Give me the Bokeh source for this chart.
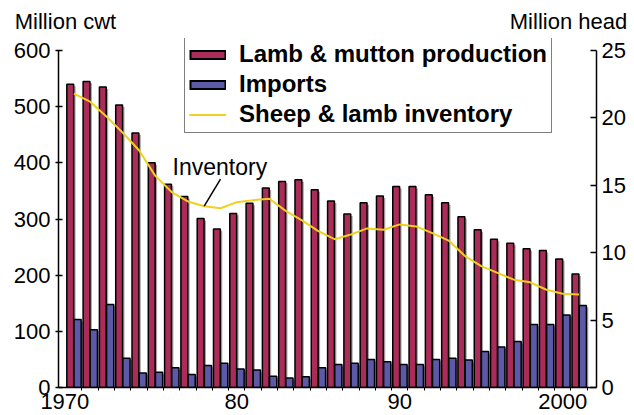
from bokeh.plotting import figure
from bokeh.models import (Range1d, LinearAxis, FixedTicker, Legend, LegendItem,
                          Label, ColumnDataSource)
from bokeh.transform import dodge
from bokeh.embed import file_html
from bokeh.resources import INLINE

# ---------------- data ----------------
years = list(range(1970, 2002))
production = [540, 545, 535, 503, 453, 400, 362, 340, 301, 282,
              310, 328, 355, 367, 370, 352, 332, 309, 329, 341,
              358, 358, 343, 329, 304, 281, 264, 257, 247, 244,
              229, 202]
imports = [121, 103, 148, 52, 26, 27, 35, 23, 39, 43,
           33, 31, 20, 17, 19, 35, 41, 43, 50, 46,
           41, 41, 50, 52, 49, 64, 72, 82, 112, 112,
           129, 146]
inventory = [21.8, 21.2, 20.1, 18.9, 17.6, 15.7, 14.5, 13.8, 13.45, 13.3,
             13.75, 13.9, 14.0, 13.1, 12.4, 11.6, 11.0, 11.35, 11.8, 11.7,
             12.1, 11.95, 11.45, 10.9, 9.75, 9.0, 8.5, 8.0, 7.8, 7.25,
             6.95, 6.9]
left_ticks = [0, 100, 200, 300, 400, 500, 600]
right_ticks = [0, 5, 10, 15, 20, 25]
x_tick_years = [1970, 1980, 1990, 2000]
x_tick_labels = ["1970", "80", "90", "2000"]
unit_titles = ["Million cwt", "Million head"]

# ---------------- style ----------------
RED = "#AA2C59"
BLUE = "#5B59A8"
YELLOW = "#F2D01E"
SHADOW = "#8f8f8f"
FONT = "Liberation Sans"
NAN = float("nan")

src = ColumnDataSource(dict(
    year=years,
    production=production,
    imports=imports,
    prod_shadow=[v - 3.5 for v in production],
    imp_shadow=[v - 3.5 for v in imports],
))

p = figure(width=634, height=415,
           x_range=Range1d(1969.06, 2002.07), y_range=Range1d(0, 621.4),
           output_backend="svg", toolbar_location=None,
           min_border_left=58, min_border_right=38,
           min_border_top=38, min_border_bottom=28)
p.extra_y_ranges = {"right": Range1d(0, 25.89)}
p.extra_x_ranges = {"px": Range1d(58, 596)}
p.outline_line_color = None
p.xgrid.visible = False
p.ygrid.visible = False
p.background_fill_color = "white"

# bottom x axis
xa = p.xaxis[0]
tick_pos = [y - 0.55 if i == 0 else y for i, y in enumerate(x_tick_years)]
xa.ticker = FixedTicker(ticks=tick_pos, minor_ticks=[y + 0.5 for y in years])
xa.major_label_overrides = {t: s for t, s in zip(tick_pos, x_tick_labels)}
xa.axis_line_color = "black"
xa.axis_line_width = 1.5
xa.minor_tick_line_color = "black"
xa.minor_tick_out = 3
xa.minor_tick_in = 0
xa.major_tick_line_color = None
xa.major_tick_out = 0
xa.major_tick_in = 0
xa.major_label_standoff = 3
xa.major_label_text_font = FONT
xa.major_label_text_font_size = "22px"
xa.major_label_text_color = "black"

# top "axis" carrying the unit titles
ta = LinearAxis(x_range_name="px", ticker=FixedTicker(ticks=[65, 568]),
                major_label_overrides={65: unit_titles[0], 568: unit_titles[1]})
ta.axis_line_color = None
ta.major_tick_line_color = None
ta.minor_tick_line_color = None
ta.major_tick_out = 0
ta.major_tick_in = 0
ta.major_label_standoff = 5
ta.major_label_text_font = FONT
ta.major_label_text_font_size = "22px"
ta.major_label_text_color = "black"
p.add_layout(ta, "above")

# left axis
ya = p.yaxis[0]
ya.ticker = FixedTicker(ticks=left_ticks)
ya.bounds = (0, 600)
ya.axis_line_color = "black"
ya.axis_line_width = 1.5
ya.major_tick_line_color = "black"
ya.major_tick_line_width = 1.5
ya.major_tick_in = 4
ya.major_tick_out = 3
ya.minor_tick_line_color = None
ya.major_label_standoff = 5
ya.major_label_text_font = FONT
ya.major_label_text_font_size = "22px"
ya.major_label_text_color = "black"

# right axis
ra = LinearAxis(y_range_name="right", ticker=FixedTicker(ticks=right_ticks))
ra.bounds = (0, 25)
ra.axis_line_color = "black"
ra.axis_line_width = 1.5
ra.major_tick_line_color = "black"
ra.major_tick_line_width = 1.5
ra.major_tick_in = 6
ra.major_tick_out = 0
ra.minor_tick_line_color = None
ra.major_label_standoff = 5
ra.major_label_text_font = FONT
ra.major_label_text_font_size = "22px"
ra.major_label_text_color = "black"
p.add_layout(ra, "right")

# bars: shadows first
p.vbar(x=dodge("year", -0.22 + 0.12, range=p.x_range), top="prod_shadow", width=0.42,
       source=src, fill_color=SHADOW, line_color=None, fill_alpha=0.8)
p.vbar(x=dodge("year", 0.23 + 0.12, range=p.x_range), top="imp_shadow", width=0.44,
       source=src, fill_color=SHADOW, line_color=None, fill_alpha=0.8)
p.vbar(x=dodge("year", -0.22, range=p.x_range), top="production", width=0.42,
       source=src, fill_color=RED, line_color="black", line_width=1.5)
p.vbar(x=dodge("year", 0.23, range=p.x_range), top="imports", width=0.44,
       source=src, fill_color=BLUE, line_color="black", line_width=1.5)

inv_r = p.line(years, inventory, y_range_name="right", line_color=YELLOW, line_width=2)

# leader line for the "Inventory" note (anchored on the 1978 point)
i78 = years.index(1978)
p.segment(x0=[years[i78]], y0=[inventory[i78]], x1=[years[i78 + 1]],
          y1=[inventory[i78] + 2.0], y_range_name="right",
          line_color="black", line_width=1.5)
p.add_layout(Label(x=years[i78 - 2], y=inventory[i78], x_offset=1, y_offset=39,
                   y_range_name="right", text="Inventory", text_font=FONT,
                   text_font_size="23px", text_color="black",
                   text_align="left", text_baseline="alphabetic"))

# legend using hidden (NaN) renderers to draw outlined bar swatches
blk_a = p.line([NAN, NAN], [NAN, NAN], line_color="black", line_width=10)
red_sw = p.line([NAN, NAN], [NAN, NAN], line_color=RED, line_width=6,
                line_dash="33 100", line_dash_offset=-2)
blk_b = p.line([NAN, NAN], [NAN, NAN], line_color="black", line_width=10)
blue_sw = p.line([NAN, NAN], [NAN, NAN], line_color=BLUE, line_width=6,
                 line_dash="33 100", line_dash_offset=-2)

legend = Legend(items=[
    LegendItem(label="Lamb & mutton production", renderers=[blk_a, red_sw]),
    LegendItem(label="Imports", renderers=[blk_b, blue_sw]),
    LegendItem(label="Sheep & lamb inventory", renderers=[inv_r]),
], location=(126, 254))
legend.label_text_font = FONT
legend.label_text_font_style = "bold"
legend.label_text_font_size = "24px"
legend.label_text_color = "black"
legend.label_height = 27
legend.glyph_height = 27
legend.glyph_width = 37
legend.label_standoff = 13
legend.spacing = 2
legend.padding = 4
legend.margin = 0
legend.border_line_color = "black"
legend.border_line_width = 1.5
legend.background_fill_color = "white"
legend.background_fill_alpha = 1.0
p.add_layout(legend, "center")

open("out.html", "w").write(file_html(p, INLINE))
